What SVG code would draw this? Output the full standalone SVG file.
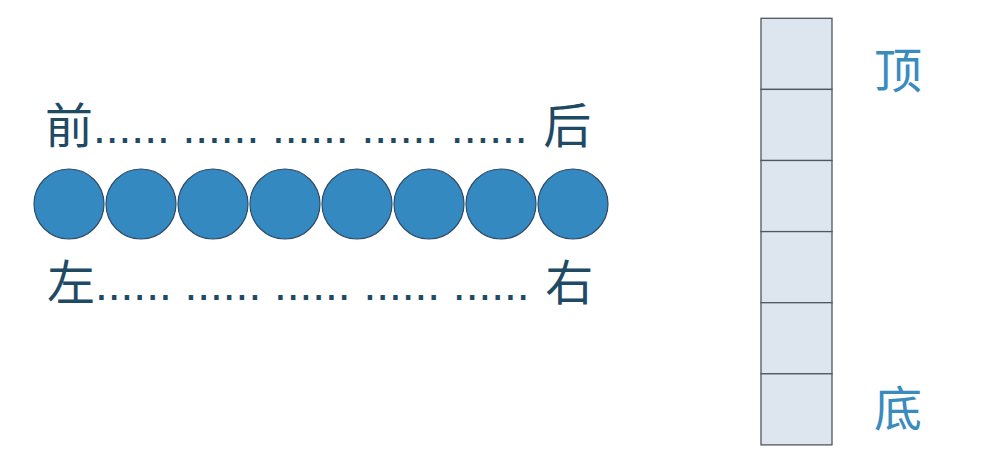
<svg xmlns="http://www.w3.org/2000/svg" width="1007" height="462" viewBox="0 0 1007 462">
<style>
.lbl{font-family:"Liberation Sans","Noto Sans CJK SC",sans-serif;font-size:46px;fill:#1f4a66}
.cjk{font-family:"Noto Sans CJK SC",sans-serif;font-size:48px}
.end{font-family:"Noto Sans CJK SC",sans-serif;font-size:48px;fill:#3a8cbe}
.ball{fill:#348ac0;stroke:#2d4a66;stroke-width:1.2}
.cell{fill:#dde6ef;stroke:#4f5861;stroke-width:1.3}
</style>
<rect width="1007" height="462" fill="#ffffff"/>
<g id="queue">
<text class="lbl" x="45" y="143"><tspan class="cjk">前</tspan>...... ...... ...... ...... ...... <tspan class="cjk" dx="3">后</tspan></text>
<circle class="ball" cx="69" cy="204" r="35"/>
<circle class="ball" cx="141" cy="204" r="35"/>
<circle class="ball" cx="213" cy="204" r="35"/>
<circle class="ball" cx="285" cy="204" r="35"/>
<circle class="ball" cx="357" cy="204" r="35"/>
<circle class="ball" cx="429" cy="204" r="35"/>
<circle class="ball" cx="501" cy="204" r="35"/>
<circle class="ball" cx="573" cy="204" r="35"/>
<text class="lbl" x="47" y="300"><tspan class="cjk">左</tspan>...... ...... ...... ...... ...... <tspan class="cjk" dx="3">右</tspan></text>
</g>
<g id="stack">
<rect class="cell" x="761" y="18.3" width="71" height="71.1"/>
<rect class="cell" x="761" y="89.4" width="71" height="71.1"/>
<rect class="cell" x="761" y="160.5" width="71" height="71.1"/>
<rect class="cell" x="761" y="231.6" width="71" height="71.1"/>
<rect class="cell" x="761" y="302.7" width="71" height="71.1"/>
<rect class="cell" x="761" y="373.8" width="71" height="71.1"/>
<text class="end" x="874" y="88">顶</text>
<text class="end" x="874" y="426">底</text>
</g>
</svg>
